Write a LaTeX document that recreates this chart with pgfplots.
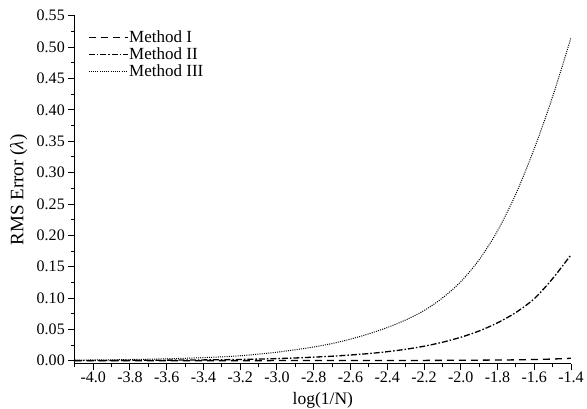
\documentclass[border={10pt 0pt 0pt 7pt}]{standalone}
\usepackage{fontspec}
\setmainfont{Liberation Serif}
\usepackage{pgfplots}
\pgfplotsset{compat=1.18}
\usepackage{pgfplotstable}

% RMS error of the three methods against log(1/N)
\pgfplotstableread{
x      y
-4.1   0.0002
-3.5   0.0002
-3.0   0.0003
-2.6   0.0004
-2.4   0.0005
-2.2   0.0006
-2.0   0.0008
-1.8   0.0012
-1.7   0.0015
-1.6   0.0020
-1.5   0.0028
-1.4   0.0040
}\methodI

\pgfplotstableread{
x      y
-4.1   0.0004
-4.0   0.0005
-3.8   0.0007
-3.6   0.0010
-3.4   0.0014
-3.2   0.0021
-3.0   0.0035
-2.9   0.0045
-2.8   0.0058
-2.7   0.0073
-2.6   0.0092
-2.5   0.0115
-2.4   0.0145
-2.3   0.0183
-2.2   0.0232
-2.1   0.0295
-2.0   0.0375
-1.9   0.0475
-1.8   0.0605
-1.7   0.0770
-1.6   0.0990
-1.5   0.1310
-1.4   0.1690
}\methodII

\pgfplotstableread{
x      y
-4.1   0.0010
-4.0   0.0013
-3.9   0.0016
-3.8   0.0020
-3.7   0.0025
-3.6   0.0032
-3.5   0.0040
-3.4   0.0050
-3.3   0.0063
-3.2   0.0080
-3.1   0.0106
-3.0   0.0138
-2.9   0.0175
-2.8   0.0220
-2.7   0.0275
-2.6   0.0345
-2.5   0.0430
-2.4   0.0530
-2.3   0.0650
-2.2   0.0800
-2.1   0.1000
-2.0   0.1260
-1.9   0.1610
-1.8   0.2070
-1.7   0.2660
-1.6   0.3380
-1.5   0.4210
-1.4   0.5150
}\methodIII

\begin{document}
\begin{tikzpicture}
\begin{axis}[
  scale only axis,
  width=496pt, height=348pt,
  xmin=-4.1, xmax=-1.4,
  ymin=-0.005, ymax=0.55,
  axis x line*=bottom,
  axis y line*=left,
  axis line style={line width=0.9pt},
  tick align=outside,
  tick style={line width=0.9pt, black},
  major tick length=6.5pt,
  minor tick length=3.5pt,
  xtick={-4.0,-3.8,...,-1.39},
  minor xtick={-4.1,-3.9,...,-1.49},
  ytick={0,0.05,...,0.551},
  minor ytick={0.025,0.075,...,0.53},
  /pgf/number format/assume math mode=true,
  xticklabel style={/pgf/number format/fixed, /pgf/number format/fixed zerofill,
    /pgf/number format/precision=1, inner ysep=1.5pt},
  yticklabel style={/pgf/number format/fixed, /pgf/number format/fixed zerofill,
    /pgf/number format/precision=2},
  tick label style={font=\fontsize{16}{19}\selectfont},
  xlabel={log(1/N)},
  ylabel={RMS Error (\textit{λ})},
  xlabel style={font=\fontsize{17.5}{21}\selectfont, inner sep=0pt,
    at={(axis description cs:0.5,-0.104)}, anchor=center},
  ylabel style={font=\fontsize{19}{23}\selectfont, inner sep=0pt,
    at={(axis description cs:-0.113,0.5)}, anchor=center},
  legend style={draw=none, fill=none, at={(0.02,0.965)}, anchor=north west,
    font=\fontsize{17}{20}\selectfont, row sep=1.5pt,
    nodes={inner sep=1pt}},
  legend cell align=left,
  legend image code/.code={\draw[#1] (0pt,0pt) -- (39pt,0pt);},
]
\addplot[black, line width=1.3pt, dash pattern=on 7pt off 5pt, smooth] table {\methodI};
\addlegendentry{Method I}
\addplot[black, line width=1.3pt, dash pattern=on 6pt off 2pt on 1.5pt off 2pt, smooth] table {\methodII};
\addlegendentry{Method II}
\addplot[black, line width=1pt, dash pattern=on 1pt off 1.2pt, smooth] table {\methodIII};
\addlegendentry{Method III}
\end{axis}
\end{tikzpicture}
\end{document}
